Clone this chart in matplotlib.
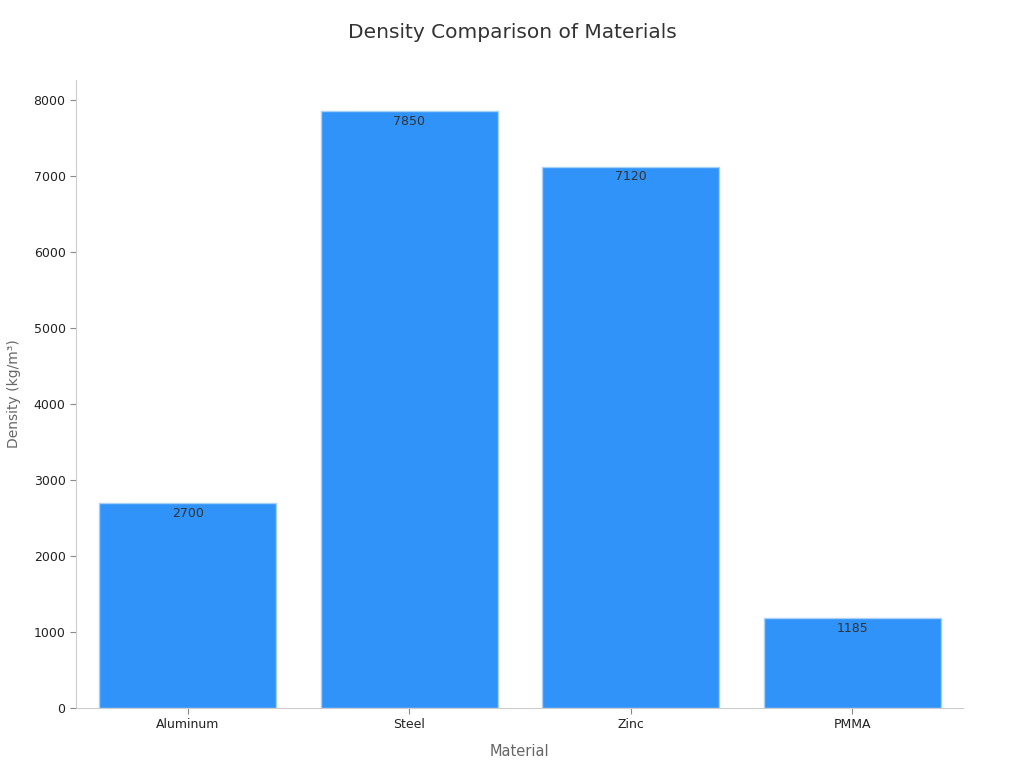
import matplotlib
matplotlib.use('Agg')
import matplotlib.pyplot as plt

materials = ['Aluminum', 'Steel', 'Zinc', 'PMMA']
density = [2700, 7850, 7120, 1185]

fig = plt.figure(figsize=(10.24, 7.68), dpi=100)
ax = fig.add_axes([0.0742, 0.0781, 0.8662, 0.8177])

x = range(len(materials))
bars = ax.bar(x, density, width=0.8, color='#2F93F9', edgecolor='#A9D0F7', linewidth=1)

for b, v in zip(bars, density):
    ax.text(b.get_x() + b.get_width() / 2, v - 50, str(v),
            ha='center', va='top', fontsize=9, color='#333333')

ax.set_xticks(list(x))
ax.set_xticklabels(materials, fontsize=9, color='#222222')
ax.set_xlim(-0.505, 3.5)
ax.set_ylim(0, 8260)
ax.set_yticks(range(0, 8001, 1000))
ax.tick_params(axis='y', labelsize=9, colors='#222222')
ax.tick_params(axis='both', color='#888888', length=4)

for s in ['top', 'right']:
    ax.spines[s].set_visible(False)
for s in ['left', 'bottom']:
    ax.spines[s].set_color('#CCCCCC')

ax.set_xlabel('Material', fontsize=10.5, color='#666666', labelpad=9)
ax.set_ylabel('Density (kg/m³)', fontsize=10, color='#666666', labelpad=9)
fig.suptitle('Density Comparison of Materials', fontsize=14.5, color='#333333', y=0.97)

fig.savefig('out.png', dpi=100)
